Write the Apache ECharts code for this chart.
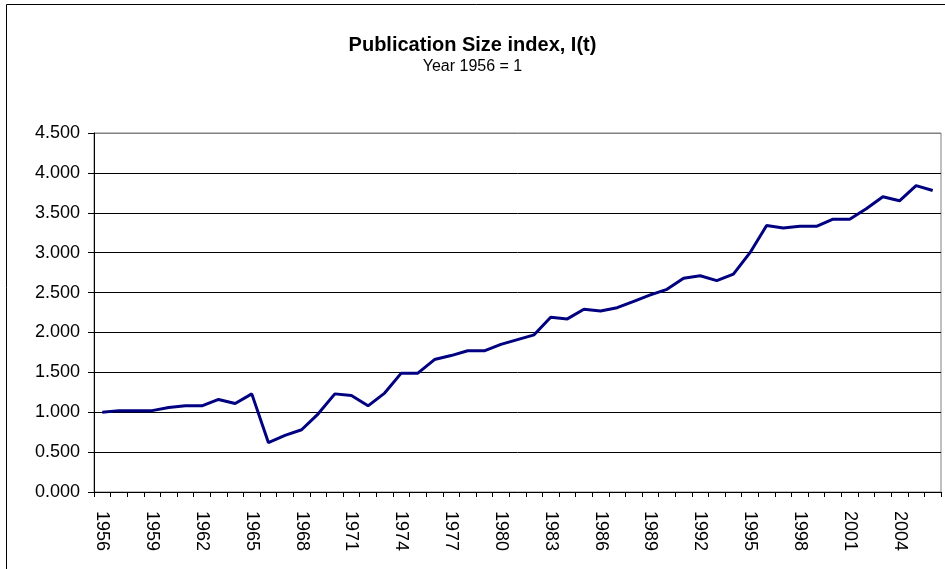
<!DOCTYPE html>
<html>
<head>
<meta charset="utf-8">
<script src="https://cdn.jsdelivr.net/npm/echarts@6/dist/echarts.min.js"></script>
<style>
	html, body { margin: 0; padding: 0; background: #fff; }
	#chart { width: 945px; height: 569px; }
</style>
</head>
<body>
<div id="chart"></div>
<script>
// years on the category axis
const years = []
for (let y = 1956; y <= 2006; y++) years.push(String(y))

// publication size index
const sizeIndex = [
	1.00, 1.02, 1.02, 1.02, 1.06, 1.08, 1.08, 1.16, 1.11, 1.23,
	0.62, 0.71, 0.78, 0.98, 1.23, 1.21, 1.08, 1.24, 1.49, 1.49,
	1.66, 1.71, 1.77, 1.77, 1.85, 1.91, 1.97, 2.19, 2.17, 2.29,
	2.27, 2.31, 2.39, 2.47, 2.54, 2.68, 2.71, 2.65, 2.73, 3.00,
	3.34, 3.31, 3.33, 3.33, 3.42, 3.42, 3.55, 3.70, 3.65, 3.84,
	3.78
]

const splitColors = ['#000', '#000', '#000', '#000', '#000', '#000', '#000', '#000', '#000', '#808080']

const chart = echarts.init(document.getElementById('chart'))

chart.setOption({
	animation: false,
	backgroundColor: '#fff',
	textStyle: { fontFamily: 'Liberation Sans, Arial, sans-serif' },
	graphic: [
		{
			type: 'rect',
			left: 4,
			top: 2,
			shape: { width: 1000, height: 640 },
			style: { fill: 'none', stroke: '#000', lineWidth: 1 },
			silent: true
		}
	],
	title: {
		text: 'Publication Size index, I(t)',
		subtext: 'Year 1956 = 1',
		left: 'center',
		top: 30,
		itemGap: 4,
		textStyle: { fontSize: 20, fontWeight: 'bold', color: '#000' },
		subtextStyle: { fontSize: 16, color: '#000' }
	},
	grid: {
		left: 94,
		right: 4,
		top: 133,
		bottom: 77,
		show: true,
		borderColor: '#808080',
		borderWidth: 1
	},
	xAxis: {
		type: 'category',
		data: years,
		boundaryGap: true,
		axisLine: { lineStyle: { color: '#000', width: 1 } },
		axisTick: { show: true, interval: 0, length: 5, lineStyle: { color: '#000' } },
		axisLabel: {
			interval: 2,
			rotate: -90,
			margin: 19,
			fontSize: 18,
			color: '#000'
		},
		splitLine: { show: false }
	},
	yAxis: {
		type: 'value',
		min: 0,
		max: 4.5,
		interval: 0.5,
		axisLine: { show: true, lineStyle: { color: '#000', width: 1 } },
		axisTick: { show: true, length: 6, lineStyle: { color: '#000' } },
		axisLabel: {
			fontSize: 18,
			color: '#000',
			margin: 14,
			formatter: v => v.toFixed(3)
		},
		splitLine: { show: true, lineStyle: { color: splitColors, width: 1 } }
	},
	series: [
		{
			type: 'line',
			data: sizeIndex,
			symbol: 'none',
			lineStyle: { color: '#000080', width: 3 }
		}
	]
})
</script>
</body>
</html>
